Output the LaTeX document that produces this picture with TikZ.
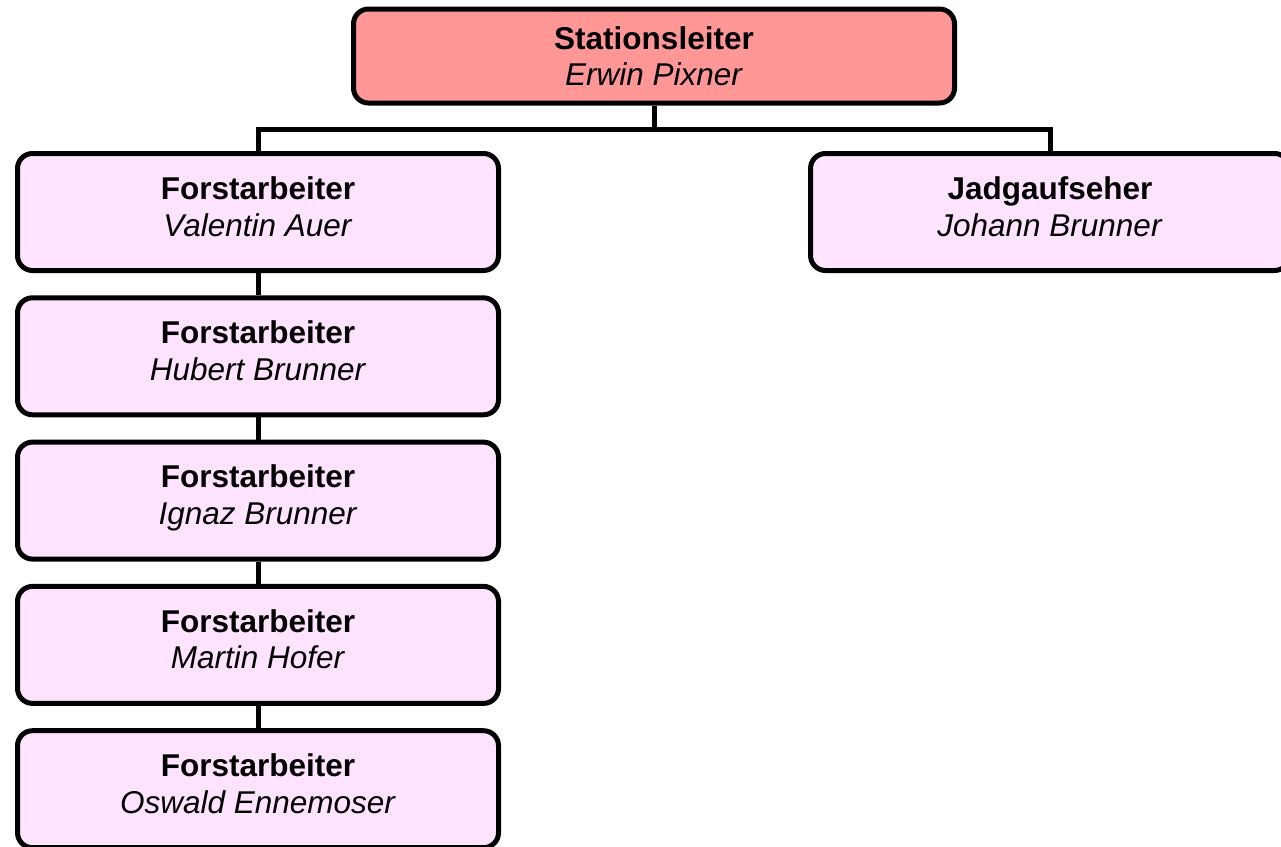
\documentclass[tikz,border=0pt]{standalone}
\usepackage{fontspec}
\setmainfont{Liberation Sans}
\usetikzlibrary{positioning}
\definecolor{leiterrot}{HTML}{FF9797}
\definecolor{arbeiterrosa}{HTML}{FFE3FF}
\tikzset{node distance=22.3pt,
  box/.style={draw, line width=5pt, rounded corners=15pt, align=center,
    minimum width=481pt, minimum height=117pt, fill=arbeiterrosa,
    font=\fontsize{31.5}{36.8}\selectfont},
  arbeiter/.style={box, text height=60pt, text depth=12pt},
  line/.style={line width=5pt}}

\begin{document}
\begin{tikzpicture}[x=1pt,y=1pt]
                \useasboundingbox (0,0) rectangle (1281,-846);
                \node[box, fill=leiterrot, minimum width=601pt, minimum height=94pt,
                  font=\fontsize{31.5}{36}\selectfont] (SL) at (654,-56)
                  {\textbf{Stationsleiter}\\\textit{Erwin Pixner}};
                \node[arbeiter] (FA1) at (258,-212) {\textbf{Forstarbeiter}\\\textit{Valentin Auer}};
                \node[arbeiter] (FA2) [below=of FA1] {\textbf{Forstarbeiter}\\\textit{Hubert Brunner}};
                \node[arbeiter] (FA3) [below=of FA2] {\textbf{Forstarbeiter}\\\textit{Ignaz Brunner}};
                \node[arbeiter] (FA4) [below=of FA3] {\textbf{Forstarbeiter}\\\textit{Martin Hofer}};
                \node[arbeiter] (FA5) [below=of FA4] {\textbf{Forstarbeiter}\\\textit{Oswald Ennemoser}};
                \node[arbeiter, minimum width=479pt] (JA) at (1050,-212) {\textbf{Jadgaufseher}\\\textit{Johann Brunner}};
                \draw[line] (SL.south) -- ++(0,-24) -| (FA1.north);
                \draw[line] (SL.south) -- ++(0,-24) -| (JA.north);
                \draw[line] (FA1) -- (FA2);
                \draw[line] (FA2) -- (FA3);
                \draw[line] (FA3) -- (FA4);
                \draw[line] (FA4) -- (FA5);
              \end{tikzpicture}
\end{document}
